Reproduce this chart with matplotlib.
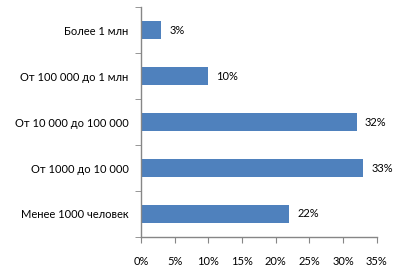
import matplotlib
matplotlib.use("Agg")
import matplotlib.pyplot as plt
from matplotlib.ticker import PercentFormatter

# data (top to bottom as in the picture)
categories = ["Более 1 млн", "От 100 000 до 1 млн", "От 10 000 до 100 000",
              "От 1000 до 10 000", "Менее 1000 человек"]
shares = [3, 10, 32, 33, 22]
x_ticks = [0, 5, 10, 15, 20, 25, 30, 35]

plt.rcParams["font.family"] = ["Lato", "DejaVu Sans"]
axis_gray = "#868686"
bar_color = "#4F81BD"

fig = plt.figure(figsize=(4.2, 2.73), dpi=100)
ax = fig.add_axes([0.336, 0.132, 0.561, 0.842])

pos = list(range(len(categories)))
ax.barh(pos, shares, height=0.38, color=bar_color)
ax.set_ylim(len(categories) - 0.5, -0.5)
ax.set_yticks(pos)
ax.set_yticklabels(categories, fontsize=8)
# boundary ticks between categories, like Excel
ax.set_yticks([p - 0.5 for p in range(len(categories) + 1)], minor=True)
ax.tick_params(axis="y", which="major", length=0, pad=9)
ax.tick_params(axis="y", which="minor", length=4, color=axis_gray, direction="out")

ax.set_xlim(0, 35)
ax.set_xticks(x_ticks)
ax.xaxis.set_major_formatter(PercentFormatter(decimals=0))
ax.tick_params(axis="x", length=4, color=axis_gray, direction="out", pad=10, labelsize=8)

for s in ["top", "right"]:
    ax.spines[s].set_visible(False)
for s in ["left", "bottom"]:
    ax.spines[s].set_color(axis_gray)
    ax.spines[s].set_linewidth(1.0)

for p, v in zip(pos, shares):
    ax.text(v + 1.2, p, f"{v}%", va="center", ha="left", fontsize=8)

fig.savefig("out.png", dpi=100)
